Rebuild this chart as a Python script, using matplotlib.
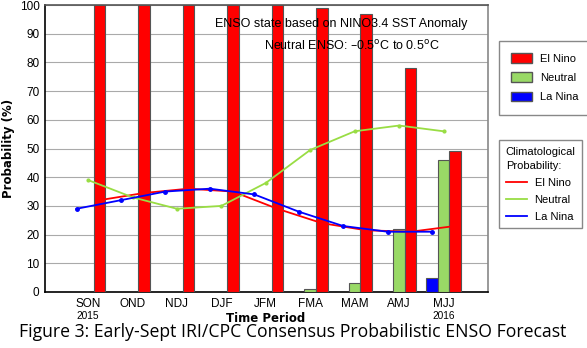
import numpy as np
import matplotlib
matplotlib.use('Agg')
import matplotlib.pyplot as plt
from matplotlib.patches import Patch
from matplotlib.lines import Line2D
from matplotlib.transforms import blended_transform_factory

# seasons and forecast probabilities (%)
seasons = ['SON', 'OND', 'NDJ', 'DJF', 'JFM', 'FMA', 'MAM', 'AMJ', 'MJJ']
el_nino = [100, 100, 100, 100, 100, 99, 97, 78, 49]
neutral = [0, 0, 0, 0, 0, 1, 3, 22, 46]
la_nina = [0, 0, 0, 0, 0, 0, 0, 0, 5]

# climatological probabilities (%)
clim_el_nino = [32, 34.5, 36, 35, 29, 24, 21.5, 21, 23]
clim_neutral = [39, 33, 29, 30, 38, 49.5, 56, 58, 56]
clim_la_nina = [29, 32, 35, 36, 34, 28, 23, 21, 21]

years = {0: '2015', 8: '2016'}

RED = '#ff0000'
GREEN = '#99d966'
BLUE = '#0000ff'
font = 'Liberation Sans'

fig = plt.figure(figsize=(5.87, 3.48), dpi=100)
ax = fig.add_axes([45/587, 1-292/348, (488-45)/587, (292-5)/348])

x = np.arange(len(seasons))
w = 0.26
ax.bar(x - w, la_nina, w, color=BLUE, edgecolor='#555555', lw=0.8, zorder=3)
ax.bar(x, neutral, w, color=GREEN, edgecolor='#555555', lw=0.8, zorder=3)
ax.bar(x + w, el_nino, w, color=RED, edgecolor='#555555', lw=0.8, zorder=3)

ax.plot(x + w, clim_el_nino, color=RED, lw=1.3, zorder=4)
ax.plot(x, clim_neutral, color='#99dd44', lw=1.3, marker='o', ms=2, zorder=4)
ax.plot(x - w, clim_la_nina, color=BLUE, lw=1.3, marker='o', ms=2.5, zorder=4)

ax.set_xlim(-0.97, 9.0)
ax.set_ylim(0, 100)
ax.set_yticks(range(0, 101, 10))
ax.set_xticks(x)
ax.set_xticklabels(seasons, fontfamily=font, fontsize=8.5)
ax.tick_params(length=0, pad=4)
for lab in ax.get_yticklabels():
    lab.set_fontfamily(font)
    lab.set_fontsize(8.5)
ax.grid(axis='y', color='#aaaaaa', lw=0.8, zorder=0)
ax.spines['left'].set_color('black')
ax.spines['bottom'].set_color('black')
ax.spines['top'].set_color('#555555')
ax.spines['right'].set_color('#888888')
for s in ax.spines.values():
    s.set_linewidth(1.2)

tr = blended_transform_factory(ax.transData, ax.transAxes)
for i, yr in years.items():
    ax.text(i, -(316-292)/287, yr, transform=tr, ha='center', va='center',
            fontfamily=font, fontsize=7.3)

fig.text(266/587, 1-318/348, 'Time Period', ha='center', va='center',
         fontfamily='DejaVu Sans', fontweight='bold', fontsize=8.5)
fig.text(9/587, 1-148/348, 'Probability (%)', ha='center', va='center',
         rotation=90, fontfamily='DejaVu Sans', fontweight='bold', fontsize=8.5)

ax.text((341-45)/443, 0.934, 'ENSO state based on NINO3.4 SST Anomaly',
        transform=ax.transAxes, ha='center', va='center',
        fontfamily=font, fontsize=9, zorder=5)
ax.text((352-45)/443, 0.857, 'Neutral ENSO: \u20130.5$^{\\rm o}$C to 0.5$^{\\rm o}$C',
        transform=ax.transAxes, ha='center', va='center',
        fontfamily=font, fontsize=9, zorder=5)

h1 = [Patch(facecolor=RED, edgecolor='#555555'),
      Patch(facecolor=GREEN, edgecolor='#555555'),
      Patch(facecolor=BLUE, edgecolor='#555555')]
leg1 = fig.legend(h1, ['El Nino', 'Neutral', 'La Nina'],
                  loc='upper left', bbox_to_anchor=(499/587, 1-41/348),
                  borderaxespad=0, fancybox=False, edgecolor='#888888',
                  framealpha=1, prop={'family': font, 'size': 8},
                  handlelength=1.9, handleheight=0.95, handletextpad=0.7,
                  labelspacing=0.78, borderpad=1.1)
h2 = [Line2D([], [], color=RED, lw=1.3),
      Line2D([], [], color='#99dd44', lw=1.3),
      Line2D([], [], color=BLUE, lw=1.3)]
leg2 = fig.legend(h2, ['El Nino', 'Neutral', 'La Nina'],
                  loc='upper left', bbox_to_anchor=(499/587, 1-140/348),
                  borderaxespad=0, fancybox=False, edgecolor='#888888',
                  framealpha=1, prop={'family': font, 'size': 8},
                  handlelength=1.9, handletextpad=0.7,
                  labelspacing=0.62, borderpad=0.6,
                  title='Climatological\nProbability:',
                  title_fontproperties={'family': font, 'size': 8},
                  alignment='left')
leg2.get_title().set_linespacing(1.55)
leg1.get_frame().set_linewidth(1.0)
leg2.get_frame().set_linewidth(1.0)

fig.text(293/587, 1-332/348, 'Figure 3: Early-Sept IRI/CPC Consensus Probabilistic ENSO Forecast',
         ha='center', va='center', fontfamily='Open Sans', fontsize=12.7)

fig.savefig('out.png', dpi=100)
